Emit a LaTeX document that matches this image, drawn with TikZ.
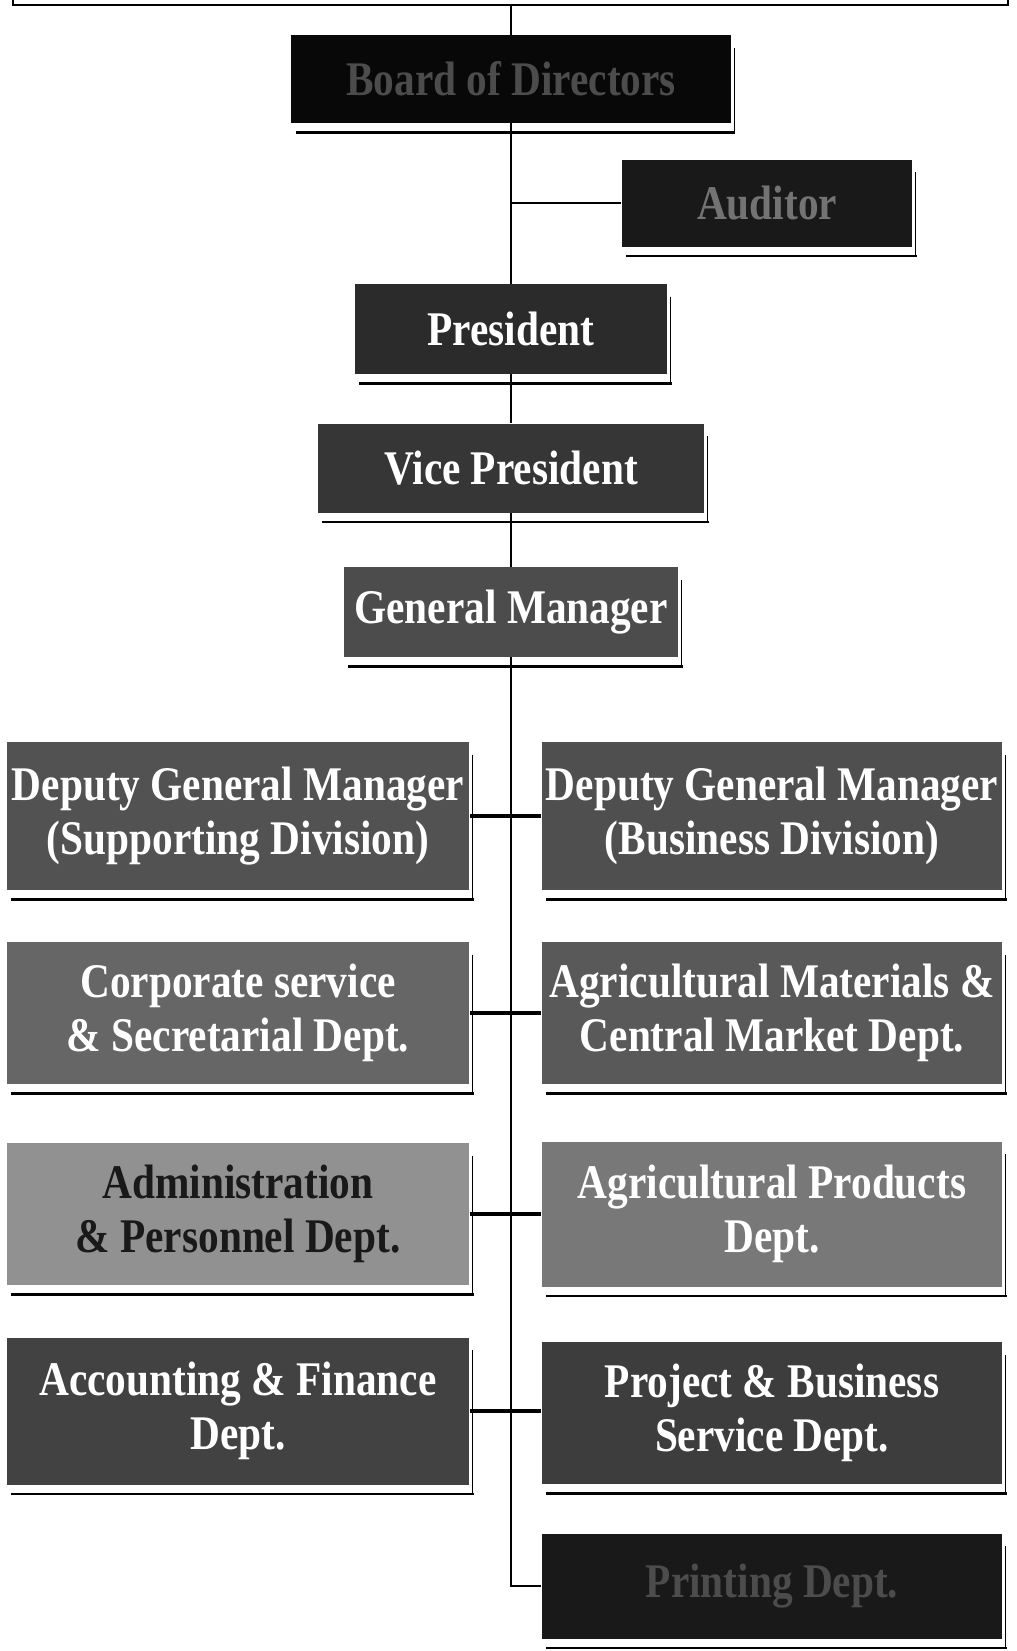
\documentclass[tikz,border=0pt]{standalone}
\usepackage{fontspec}
\newfontfamily\orgfont{Liberation Serif}[FakeStretch=0.855]

\begin{document}
\begin{tikzpicture}[
      x=0.02cm, y=-0.02cm,
      unit/.style ={rectangle, inner sep=0pt, text=white, align=center,
                    font=\orgfont\bfseries\fontsize{27.5}{30.7}\selectfont},
      faint/.style={unit, text=white!30!black},
      shade/.style={line width=1.5pt},
      edge/.style ={line width=0.9pt},
      rung/.style ={line width=1.8pt}
    ]
    \useasboundingbox (0,0) rectangle (1017,1651);

    % top unit, only its lower edge is on the page
    \draw[line width=1.2pt] (13,-40) -- (13,5) -- (1008,5) -- (1008,-40);
    \coordinate (top) at (511,5);

    % chain of command
    \node[faint, fill=black!97, minimum width=8.8cm,  minimum height=1.76cm] (BD) at (511,79)    {Board of Directors};
    \node[faint, fill=black!90, text=white!45!black,
          minimum width=5.82cm, minimum height=1.74cm] (AU) at (767,203)   {Auditor};
    \node[unit,  fill=black!83, minimum width=6.26cm, minimum height=1.8cm]  (PR) at (511,329)   {President};
    \node[unit,  fill=black!79, minimum width=7.74cm, minimum height=1.78cm] (VP) at (511,468)   {Vice President};
    \node[unit,  fill=black!70, minimum width=6.7cm,  minimum height=1.8cm]  (GM) at (511,612)   {General Manager};

    % left column
    \node[unit, fill=black!68, minimum width=9.26cm, minimum height=2.96cm] (DS) at (238,816)  {Deputy General Manager\\(Supporting Division)};
    \node[unit, fill=black!60, minimum width=9.26cm, minimum height=2.84cm] (CS) at (238,1013) {Corporate service\\\& Secretarial Dept.};
    \node[unit, fill=black!43, text=black!90,
          minimum width=9.26cm, minimum height=2.84cm] (AD) at (238,1214) {Administration\\\& Personnel Dept.};
    \node[unit, fill=black!74, minimum width=9.26cm, minimum height=2.94cm] (AC) at (238,1411) {Accounting \& Finance\\Dept.};

    % right column
    \node[unit, fill=black!69, minimum width=9.22cm, minimum height=2.96cm] (DB) at (772,816)  {Deputy General Manager\\(Business Division)};
    \node[unit, fill=black!65, minimum width=9.22cm, minimum height=2.84cm] (AM) at (772,1013) {Agricultural Materials \&\\Central Market Dept.};
    \node[unit, fill=black!53, minimum width=9.22cm, minimum height=2.9cm]  (AG) at (772,1214) {Agricultural Products\\Dept.};
    \node[unit, fill=black!76, minimum width=9.22cm, minimum height=2.84cm] (PB) at (772,1413) {Project \& Business\\Service Dept.};
    \node[faint, fill=black!90, minimum width=9.22cm, minimum height=2.1cm]  (PT) at (772,1586) {Printing Dept.};

    % shadow lines
    \foreach \n in {BD,AU,PR,VP,GM,DS,CS,AD,AC,DB,AM,AG,PB,PT} {
      \draw[shade] ([shift={(5,9)}]\n.south west) -- ([shift={(4,9)}]\n.south east);
      \draw[thin]  ([shift={(3,13)}]\n.north east) -- ([shift={(3,9)}]\n.south east);
    }

    % connectors
    \draw[edge] (top) -- (BD);
    \draw[edge] (BD) -- (PR);
    \draw[edge] (PR.north |- AU.west) -- (AU);
    \draw[edge] (PR) -- (VP);
    \draw[edge] (VP) -- (GM);
    \draw[edge] (GM) -- (GM.south |- PT.west) -- (PT);

    \draw[rung] (DS) -- (DB);
    \draw[rung] (CS) -- (AM);
    \draw[rung] (AD) -- (AG);
    \draw[rung] (AC.east) -- (AC.east -| PB.west);

  \end{tikzpicture}
\end{document}
